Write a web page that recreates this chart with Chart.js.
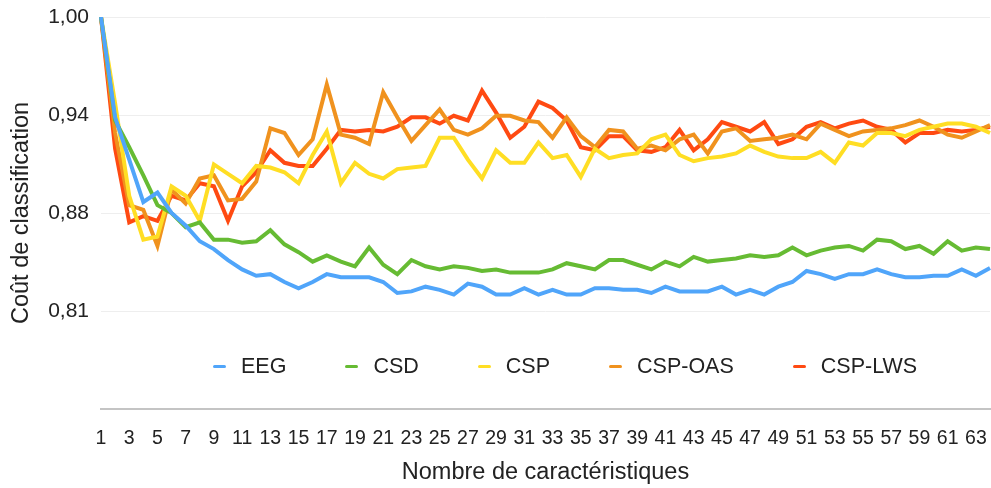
<!DOCTYPE html>
<html>
<head>
<meta charset="utf-8">
<script src="https://cdn.jsdelivr.net/npm/chart.js@4"></script>
<style>
  html, body { margin: 0; padding: 0; background: #fff; overflow: hidden; }
  #wrap { position: relative; width: 1000px; height: 488px; }
  #legend {
    position: absolute; left: 213px; top: 354px;
    display: flex; align-items: center; gap: 59px;
    font-family: "Liberation Sans", Arial, sans-serif; font-size: 21.5px; color: #222;
  }
  #legend .item { display: flex; align-items: center; }
  #legend .dash { width: 13px; height: 3px; border-radius: 2px; margin-right: 15px; }
</style>
</head>
<body>
<div id="wrap">
  <canvas id="chart"></canvas>
  <div id="legend"></div>
</div>
<script>
//DATA
const xLabels = ['1','2','3','4','5','6','7','8','9','10','11','12','13','14','15','16',
  '17','18','19','20','21','22','23','24','25','26','27','28','29','30','31','32',
  '33','34','35','36','37','38','39','40','41','42','43','44','45','46','47','48',
  '49','50','51','52','53','54','55','56','57','58','59','60','61','62','63','64'];

const seriesNames = ['EEG', 'CSD', 'CSP', 'CSP-OAS', 'CSP-LWS'];
const seriesColors = ['rgb(80, 165, 250)', 'rgb(102, 187, 51)', 'rgb(255, 222, 36)', 'rgb(240, 146, 30)', 'rgb(255, 74, 18)'];

const eeg = [1.000, 0.936, 0.909, 0.882, 0.888, 0.875, 0.867, 0.857, 0.852, 0.845, 0.839, 0.835, 0.836, 0.831, 0.827, 0.831,
  0.836, 0.834, 0.834, 0.834, 0.831, 0.824, 0.825, 0.828, 0.826, 0.823, 0.830, 0.828, 0.823, 0.823, 0.827, 0.823,
  0.826, 0.823, 0.823, 0.827, 0.827, 0.826, 0.826, 0.824, 0.828, 0.825, 0.825, 0.825, 0.828, 0.823, 0.826, 0.823,
  0.828, 0.831, 0.838, 0.836, 0.833, 0.836, 0.836, 0.839, 0.836, 0.834, 0.834, 0.835, 0.835, 0.839, 0.835, 0.840];

const csd = [1.000, 0.934, 0.917, 0.899, 0.880, 0.875, 0.866, 0.869, 0.858, 0.858, 0.856, 0.857, 0.864, 0.855, 0.850, 0.844,
  0.848, 0.844, 0.841, 0.853, 0.842, 0.836, 0.845, 0.841, 0.839, 0.841, 0.840, 0.838, 0.839, 0.837, 0.837, 0.837,
  0.839, 0.843, 0.841, 0.839, 0.845, 0.845, 0.842, 0.839, 0.844, 0.841, 0.847, 0.844, 0.845, 0.846, 0.848, 0.847,
  0.848, 0.853, 0.848, 0.851, 0.853, 0.854, 0.851, 0.858, 0.857, 0.852, 0.854, 0.849, 0.857, 0.851, 0.853, 0.852];

const csp = [1.000, 0.945, 0.886, 0.858, 0.860, 0.892, 0.886, 0.870, 0.906, 0.900, 0.894, 0.905, 0.904, 0.901, 0.894, 0.912,
  0.927, 0.894, 0.907, 0.900, 0.897, 0.903, 0.904, 0.905, 0.923, 0.923, 0.909, 0.897, 0.915, 0.907, 0.907, 0.920,
  0.910, 0.912, 0.898, 0.916, 0.910, 0.912, 0.913, 0.922, 0.925, 0.912, 0.908, 0.910, 0.911, 0.913, 0.918, 0.914,
  0.911, 0.910, 0.910, 0.914, 0.907, 0.920, 0.918, 0.926, 0.926, 0.924, 0.928, 0.930, 0.932, 0.932, 0.930, 0.926];

const cspOas = [1.000, 0.926, 0.880, 0.877, 0.854, 0.890, 0.881, 0.897, 0.899, 0.883, 0.884, 0.895, 0.929, 0.926, 0.912, 0.922,
  0.957, 0.925, 0.923, 0.919, 0.952, 0.936, 0.921, 0.931, 0.941, 0.928, 0.925, 0.929, 0.937, 0.937, 0.934, 0.933,
  0.923, 0.936, 0.924, 0.917, 0.928, 0.927, 0.916, 0.918, 0.915, 0.922, 0.925, 0.913, 0.927, 0.929, 0.921, 0.922,
  0.923, 0.925, 0.922, 0.932, 0.928, 0.924, 0.927, 0.928, 0.929, 0.931, 0.934, 0.930, 0.925, 0.923, 0.927, 0.931];

const cspLws = [1.000, 0.916, 0.869, 0.873, 0.870, 0.886, 0.883, 0.894, 0.892, 0.870, 0.892, 0.901, 0.915, 0.907, 0.905, 0.905,
  0.916, 0.928, 0.927, 0.928, 0.927, 0.930, 0.936, 0.936, 0.932, 0.937, 0.934, 0.953, 0.939, 0.923, 0.930, 0.946,
  0.942, 0.934, 0.917, 0.915, 0.924, 0.924, 0.915, 0.914, 0.917, 0.928, 0.915, 0.922, 0.933, 0.930, 0.927, 0.933,
  0.919, 0.922, 0.930, 0.933, 0.929, 0.932, 0.934, 0.930, 0.928, 0.920, 0.926, 0.926, 0.928, 0.927, 0.928, 0.930];

const yTicks = [0.75, 0.8125, 0.875, 0.9375, 1.0];
const yTickLabels = ['', '0,81', '0,88', '0,94', '1,00'];

const allSeries = [eeg, csd, csp, cspOas, cspLws];

//CONFIG
const font = "'Liberation Sans', Arial, sans-serif";

const chartData = {
    labels: xLabels,
    datasets: allSeries.map((values, i) => ({
        label: seriesNames[i],
        data: values,
        borderColor: seriesColors[i],
        backgroundColor: seriesColors[i],
        borderWidth: 4,
        pointRadius: 0,
        tension: 0,
        borderJoinStyle: 'miter'
    }))
};

const chartConfig = {
    type: 'line',
    data: chartData,
    options: {
        responsive: true,
        maintainAspectRatio: false,
        animation: false,
        layout: { padding: { left: 5, right: 5, top: 17, bottom: 1 } },
        plugins: {
            legend: { display: false },
            tooltip: { enabled: false }
        },
        scales: {
            x: {
                grid: { display: false },
                border: { color: '#c4c4c4', width: 2 },
                ticks: {
                    autoSkip: false,
                    maxRotation: 0,
                    padding: 10,
                    color: '#222',
                    font: { family: font, size: 19.5 },
                    callback: (v, i) => (i % 2 === 0 ? xLabels[i] : '')
                },
                title: {
                    display: true,
                    text: 'Nombre de caractéristiques',
                    color: '#222',
                    font: { family: font, size: 23.5 },
                    padding: { top: 4, bottom: 0 }
                },
                afterFit: (s) => { s.height = 78; }
            },
            y: {
                min: 0.75,
                max: 1.0,
                afterBuildTicks: (s) => { s.ticks = yTicks.map(v => ({ value: v })); },
                grid: { color: '#eeeeee', lineWidth: 1, drawTicks: false },
                border: { display: false },
                ticks: {
                    padding: 12,
                    color: '#222',
                    font: { family: font, size: 21 },
                    callback: (v) => yTickLabels[yTicks.indexOf(v)]
                },
                title: {
                    display: true,
                    text: 'Coût de classification',
                    color: '#222',
                    font: { family: font, size: 23.5 },
                    padding: { top: 2, bottom: 4 }
                },
                afterFit: (s) => {
                    s.width = 96;
                    s.paddingTop = 0;
                    s.paddingBottom = 0;
                }
            }
        }
    }
};

//RENDER
const costChart = new Chart(document.getElementById('chart'), chartConfig);

const legendBox = document.getElementById('legend');
seriesNames.forEach((name, i) => {
    const item = document.createElement('div');
    item.className = 'item';
    const dash = document.createElement('span');
    dash.className = 'dash';
    dash.style.background = seriesColors[i];
    const txt = document.createElement('span');
    txt.textContent = name;
    item.appendChild(dash);
    item.appendChild(txt);
    legendBox.appendChild(item);
});
</script>
</body>
</html>
